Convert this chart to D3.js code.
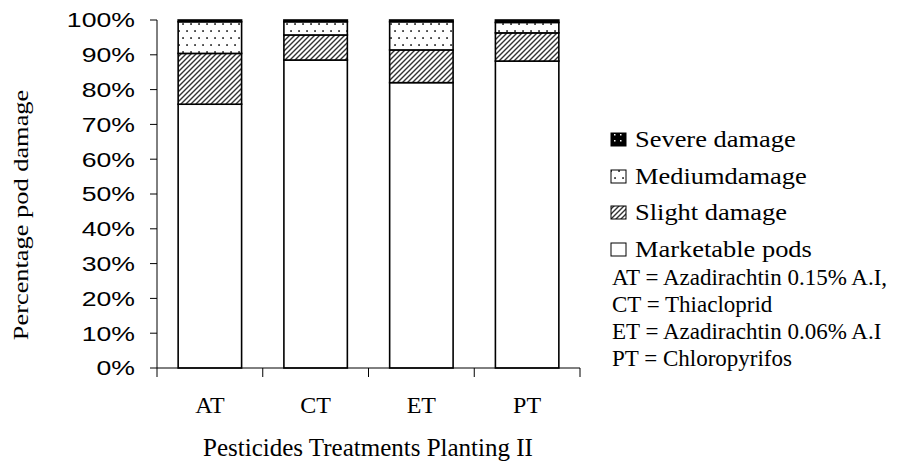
<!DOCTYPE html>
<html><head><meta charset="utf-8">
<script src="https://cdn.jsdelivr.net/npm/d3@7/dist/d3.min.js"></script>
<style>body{margin:0;background:#fff}svg{display:block}</style>
</head><body>
<svg id="c" width="900" height="463"></svg>
<script>
const categories = ["AT","CT","ET","PT"];
const seriesNames = ["Marketable pods","Slight damage","Mediumdamage","Severe damage"];
const marketable = [75.8, 88.5, 82.0, 88.2];
const slight     = [14.6, 7.2, 9.4, 8.1];
const medium     = [9.1, 3.8, 8.1, 3.0];
const severe     = [0.5, 0.5, 0.5, 0.7];
const yTicks = [0,10,20,30,40,50,60,70,80,90,100];
const legendNotes = ["AT = Azadirachtin 0.15% A.I,","CT = Thiacloprid","ET = Azadirachtin 0.06% A.I","PT = Chloropyrifos"];

const svg = d3.select("#c");
const serif = "'Liberation Serif','Times New Roman',serif";
const sans = "'Liberation Sans',Arial,sans-serif";

// patterns
const defs = svg.append("defs");
const hatch = defs.append("pattern").attr("id","hatch").attr("patternUnits","userSpaceOnUse")
  .attr("width",5).attr("height",5);
hatch.append("rect").attr("width",5).attr("height",5).attr("fill","#fff");
hatch.append("path").attr("d","M-1,1 l2,-2 M0,5 l5,-5 M4,6 l2,-2").attr("stroke","#333").attr("stroke-width",1.4);
const dots = defs.append("pattern").attr("id","dots").attr("patternUnits","userSpaceOnUse")
  .attr("width",16).attr("height",14);
dots.append("rect").attr("width",16).attr("height",14).attr("fill","#fff");
[[3,3],[11,3],[7,10],[15,10]].forEach(p=>dots.append("rect").attr("x",p[0]-0.8).attr("y",p[1]-0.8).attr("width",1.7).attr("height",1.7).attr("fill","#222"));
const sdots = defs.append("pattern").attr("id","sdots").attr("patternUnits","userSpaceOnUse")
  .attr("width",6).attr("height",6);
sdots.append("rect").attr("width",6).attr("height",6).attr("fill","#000");
sdots.append("rect").attr("x",2).attr("y",2).attr("width",1.5).attr("height",1.5).attr("fill","#fff");

const fills = {"Marketable pods":"#fff","Slight damage":"url(#hatch)","Mediumdamage":"url(#dots)","Severe damage":"#000"};
const legendFills = {"Marketable pods":"#fff","Slight damage":"url(#hatch)","Mediumdamage":"url(#dots)","Severe damage":"url(#sdots)"};

const table = categories.map((c,i)=>({cat:c,"Marketable pods":marketable[i],"Slight damage":slight[i],"Mediumdamage":medium[i],"Severe damage":severe[i]}));
const stack = d3.stack().keys(seriesNames).offset(d3.stackOffsetExpand)(table);

const x = d3.scaleBand().domain(categories).range([157,580]).paddingInner(0.4).paddingOuter(0.2);
const y = d3.scaleLinear().domain([0,1]).range([368,20]);

// bars
svg.append("g").selectAll("g").data(stack).join("g")
  .attr("fill",d=>fills[d.key])
  .selectAll("rect").data(d=>d).join("rect")
  .attr("x",d=>x(d.data.cat)).attr("width",x.bandwidth())
  .attr("y",d=>y(d[1])).attr("height",d=>y(d[0])-y(d[1]))
  .attr("stroke","#000").attr("stroke-width",1.6);

// y axis
const ya = svg.append("g");
ya.append("line").attr("x1",157).attr("x2",157).attr("y1",y(1)).attr("y2",y(0)).attr("stroke","#000").attr("stroke-width",1);
yTicks.forEach(t=>{
  const yy = y(t/100);
  ya.append("line").attr("x1",150).attr("x2",157).attr("y1",yy).attr("y2",yy).attr("stroke","#000");
  ya.append("text").attr("transform",`translate(135,${yy}) scale(1.3,1)`).attr("text-anchor","end")
    .attr("dy","0.36em").attr("font-family",sans).attr("font-size",20.5).attr("fill","#000").text(t+"%");
});

// x axis
const xa = svg.append("g");
xa.append("line").attr("x1",157).attr("x2",580).attr("y1",368).attr("y2",368).attr("stroke","#000");
const bounds = categories.map(c=>x(c)-x.step()*x.paddingInner()/2).concat([x.range()[1]]);
bounds.forEach(b=>xa.append("line").attr("x1",b).attr("x2",b).attr("y1",368).attr("y2",377).attr("stroke","#000"));
categories.forEach(c=>xa.append("text").attr("x",x(c)+x.bandwidth()/2).attr("y",413).attr("text-anchor","middle")
  .attr("font-family",serif).attr("font-size",24).attr("fill","#000").text(c));

// titles
svg.append("text").attr("x",368).attr("y",456).attr("text-anchor","middle").attr("font-family",serif)
  .attr("font-size",25).attr("fill","#000").text("Pesticides Treatments Planting II");
svg.append("text").attr("transform","translate(28,215) rotate(-90) scale(1.2,1)").attr("text-anchor","middle")
  .attr("font-family",serif).attr("font-size",22).attr("fill","#000").text("Percentage pod damage");

// legend
const legendOrder = ["Severe damage","Mediumdamage","Slight damage","Marketable pods"];
const legBase = [147,184,220,257];
legendOrder.forEach((k,i)=>{
  svg.append("rect").attr("x",611).attr("y",legBase[i]-14).attr("width",15).attr("height",13)
    .attr("fill",legendFills[k]).attr("stroke","#000").attr("stroke-width",1);
  svg.append("text").attr("transform",`translate(635,${legBase[i]}) scale(1.15,1)`)
    .attr("font-family",serif).attr("font-size",23).attr("fill","#000").text(k);
});
const noteBase = [285,312,339,366];
legendNotes.forEach((t,i)=>svg.append("text").attr("x",612).attr("y",noteBase[i])
  .attr("font-family",serif).attr("font-size",23).attr("fill","#000").text(t));
</script>
</body></html>
